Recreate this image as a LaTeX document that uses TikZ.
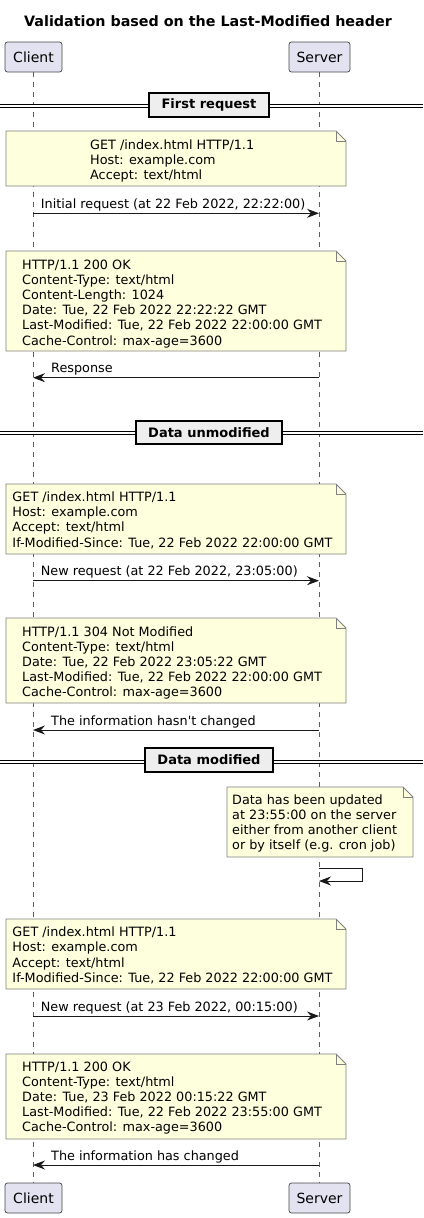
\documentclass[tikz,border=0pt]{standalone}
\usepackage{fontspec}
\setmainfont{DejaVu Sans}
\usetikzlibrary{arrows.meta}

\definecolor{notefill}{HTML}{FEFFDD}
\definecolor{partfill}{HTML}{E2E2F0}
\definecolor{linegray}{HTML}{181818}
\definecolor{divfill}{HTML}{EEEEEE}

% note with a folded corner: x1, y1, x2, y2
\newcommand{\httpnote}[4]{%
    \draw[notebox] (#1,#2) -- (#3-10,#2) -- (#3,#2+10) -- (#3,#4) -- (#1,#4) -- cycle;
    \draw[notebox,fill=none] (#3-10,#2) -- (#3-10,#2+10) -- (#3,#2+10);
}

\begin{document}
\begin{tikzpicture}[x=1pt, y=-1pt,
        font=\fontsize{12.8}{15.2}\selectfont,
        part/.style={draw=linegray!80, fill=partfill, rounded corners=2.5pt, line width=0.7pt,
            minimum height=30pt, inner sep=0pt, font=\fontsize{14}{16}\selectfont},
        lifeline/.style={draw=linegray!70, line width=0.5pt, dash pattern=on 5pt off 5pt},
        notebox/.style={draw=black!50, fill=notefill, line width=0.8pt},
        notetext/.style={anchor=base west, align=left, inner sep=0pt},
        msg/.style={draw=linegray, line width=0.9pt, -{Stealth[length=12pt, width=9pt, inset=4pt]}},
        msglabel/.style={anchor=base west, inner sep=0pt},
        divline/.style={draw=black, line width=1pt, double=white, double distance=2.2pt},
        divbox/.style={draw=black, fill=divfill, line width=1.5pt, inner sep=0pt,
            font=\bfseries\fontsize{13}{15}\selectfont}]
        \useasboundingbox (0,0) rectangle (423,1218);

        \node[anchor=base, font=\bfseries\fontsize{14.3}{16}\selectfont] (title) at (208,27)
            {Validation based on the Last-Modified header};

        % participants
        \node[part, minimum width=57pt] (client-top) at (33.5,57) {Client};
        \node[part, minimum width=61pt] (server-top) at (319.5,57) {Server};
        \node[part, minimum width=57pt] (client-bot) at (33.5,1198) {Client};
        \node[part, minimum width=61pt] (server-bot) at (319.5,1198) {Server};
        \draw[lifeline] (client-top) -- (client-bot);
        \draw[lifeline] (server-top) -- (server-bot);

        % dividers
        \draw[divline] (0,106) -- (423,106);
        \node[divbox, minimum width=120pt, minimum height=24pt] (div-first) at (209,105) {First request};
        \draw[divline] (0,433.3) -- (423,433.3);
        \node[divbox, minimum width=146pt, minimum height=23pt] (div-unmod) at (209,432.5) {Data unmodified};
        \draw[divline] (0,761.7) -- (423,761.7);
        \node[divbox, minimum width=128pt, minimum height=24pt] (div-mod) at (209,760) {Data modified};

        % first request (text nodes sit on the baseline of their last line)
        \httpnote{6}{131}{346}{186}
        \node[notetext] (req1-text) at (90,179.4)
            {GET /index.html HTTP/1.1\\Host: example.com\\Accept: text/html};
        \coordinate (c-req1) at (33,213.3);
        \coordinate (s-req1) at (319,213.3);
        \draw[msg] (c-req1) -- (s-req1);
        \node[msglabel] (req1-label) at (40.7,208.3) {Initial request (at 22 Feb 2022, 22:22:00)};

        \httpnote{6}{251}{346}{351}
        \node[notetext] (resp1-text) at (22,345)
            {HTTP/1.1 200 OK\\Content-Type: text/html\\Content-Length: 1024\\
            Date: Tue, 22 Feb 2022 22:22:22 GMT\\Last-Modified: Tue, 22 Feb 2022 22:00:00 GMT\\
            Cache-Control: max-age=3600};
        \coordinate (s-resp1) at (319,377.7);
        \coordinate (c-resp1) at (33,377.7);
        \draw[msg] (s-resp1) -- (c-resp1);
        \node[msglabel] (resp1-label) at (51,372.7) {Response};

        % data unmodified
        \httpnote{6}{484}{346}{554}
        \node[notetext] (req2-text) at (12.3,547)
            {GET /index.html HTTP/1.1\\Host: example.com\\Accept: text/html\\
            If-Modified-Since: Tue, 22 Feb 2022 22:00:00 GMT};
        \coordinate (c-req2) at (33,580.7);
        \coordinate (s-req2) at (319,580.7);
        \draw[msg] (c-req2) -- (s-req2);
        \node[msglabel] (req2-label) at (40.7,575.7) {New request (at 22 Feb 2022, 23:05:00)};

        \httpnote{6}{618}{346}{703}
        \node[notetext] (resp2-text) at (22,696.8)
            {HTTP/1.1 304 Not Modified\\Content-Type: text/html\\
            Date: Tue, 22 Feb 2022 23:05:22 GMT\\Last-Modified: Tue, 22 Feb 2022 22:00:00 GMT\\
            Cache-Control: max-age=3600};
        \coordinate (s-resp2) at (319,730);
        \coordinate (c-resp2) at (33,730);
        \draw[msg] (s-resp2) -- (c-resp2);
        \node[msglabel] (resp2-label) at (51,725) {The information hasn\textquotesingle t changed};

        % data modified
        \httpnote{227}{787}{413}{857}
        \node[notetext] (update-text) at (232,849.9)
            {Data has been updated\\at 23:55:00 on the server\\either from another client\\
            or by itself (e.g. cron job)};
        \coordinate (s-self-a) at (319,868);
        \coordinate (s-self-b) at (319,881);
        \draw[msg] (s-self-a) -- (362,868) -- (362,881) -- (s-self-b);

        \httpnote{6}{919}{346}{989}
        \node[notetext] (req3-text) at (12.3,982.3)
            {GET /index.html HTTP/1.1\\Host: example.com\\Accept: text/html\\
            If-Modified-Since: Tue, 22 Feb 2022 22:00:00 GMT};
        \coordinate (c-req3) at (33,1016);
        \coordinate (s-req3) at (319,1016);
        \draw[msg] (c-req3) -- (s-req3);
        \node[msglabel] (req3-label) at (40.7,1011) {New request (at 23 Feb 2022, 00:15:00)};

        \httpnote{6}{1054}{346}{1139}
        \node[notetext] (resp3-text) at (22,1131.8)
            {HTTP/1.1 200 OK\\Content-Type: text/html\\
            Date: Tue, 23 Feb 2022 00:15:22 GMT\\Last-Modified: Tue, 22 Feb 2022 23:55:00 GMT\\
            Cache-Control: max-age=3600};
        \coordinate (s-resp3) at (319,1165);
        \coordinate (c-resp3) at (33,1165);
        \draw[msg] (s-resp3) -- (c-resp3);
        \node[msglabel] (resp3-label) at (51,1160) {The information has changed};
    \end{tikzpicture}
\end{document}
